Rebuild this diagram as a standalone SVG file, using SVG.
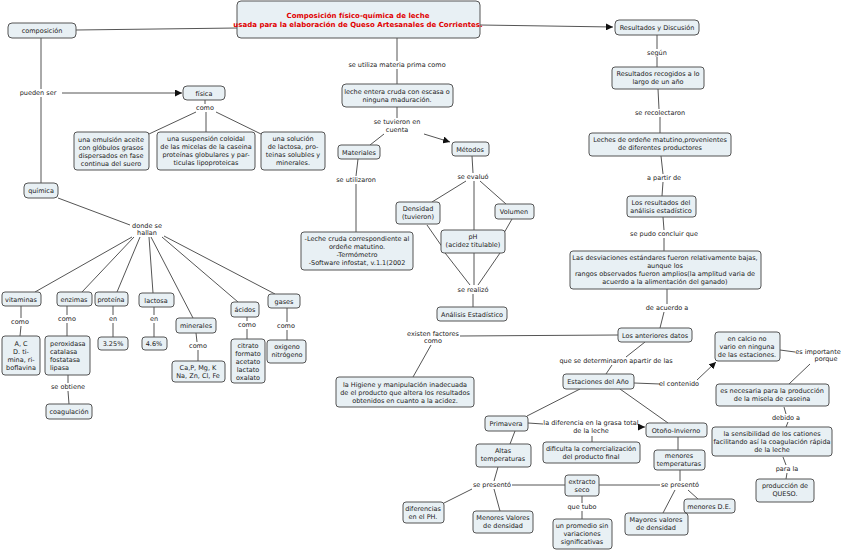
<svg xmlns="http://www.w3.org/2000/svg" width="848" height="552" viewBox="0 0 848 552">
<style>
rect{fill:#e8f0f4;stroke:#555;stroke-width:1;}
text{font-family:"DejaVu Sans",Verdana,sans-serif;font-size:6.5px;fill:#222;text-anchor:middle;}
.t{fill:#e00000;font-weight:bold;font-size:7px;}
.c line,.c path{stroke:#555;stroke-width:1;fill:none;}
</style>
<defs><marker id="a" viewBox="0 0 10 10" refX="10" refY="5" markerWidth="7" markerHeight="7" orient="auto"><path d="M0,0L10,5L0,10z" fill="#111"/></marker></defs>
<rect x="0" y="0" width="848" height="552" style="fill:#fff;stroke:none"/>
<g class="c">
<line x1="76" y1="30" x2="237" y2="28"/>
<line x1="480" y1="25" x2="613" y2="27" marker-end="url(#a)"/>
<line x1="41" y1="38" x2="41" y2="89"/><line x1="41" y1="97" x2="41" y2="183"/>
<line x1="62" y1="93" x2="182" y2="93" marker-end="url(#a)"/>
<line x1="205" y1="100" x2="205" y2="104"/>
<line x1="196" y1="112" x2="149" y2="134"/><line x1="206" y1="112" x2="206" y2="132"/><line x1="216" y1="112" x2="261" y2="134"/>
<line x1="58" y1="198" x2="130" y2="225"/>
<line x1="132" y1="237" x2="35" y2="292"/><line x1="134" y1="237" x2="82" y2="292"/><line x1="140" y1="237" x2="117" y2="292"/>
<line x1="149" y1="237" x2="153" y2="293"/><line x1="151" y1="237" x2="193" y2="318"/><line x1="162" y1="237" x2="238" y2="302"/><line x1="164" y1="236" x2="275" y2="294"/>
<line x1="21" y1="306" x2="21" y2="318"/><line x1="21" y1="326" x2="20" y2="336"/>
<line x1="67" y1="306" x2="67" y2="315"/><line x1="67" y1="323" x2="67" y2="336"/>
<line x1="68" y1="375" x2="68" y2="383"/><line x1="68" y1="391" x2="69" y2="404"/>
<line x1="113" y1="306" x2="113" y2="315"/><line x1="113" y1="323" x2="113" y2="337"/>
<line x1="154" y1="307" x2="154" y2="315"/><line x1="154" y1="323" x2="154" y2="337"/>
<line x1="196" y1="333" x2="197" y2="342"/><line x1="198" y1="350" x2="198" y2="361"/>
<line x1="247" y1="317" x2="247" y2="321"/><line x1="247" y1="329" x2="247" y2="339"/>
<line x1="287" y1="308" x2="287" y2="322"/><line x1="287" y1="330" x2="287" y2="340"/>
<line x1="397" y1="38" x2="397" y2="61"/><line x1="397" y1="69" x2="397" y2="84"/>
<line x1="397" y1="107" x2="397" y2="118"/>
<line x1="384" y1="134" x2="370" y2="145"/>
<line x1="424" y1="134" x2="450" y2="142" marker-end="url(#a)"/>
<line x1="358" y1="159" x2="356" y2="176"/><line x1="356" y1="184" x2="356" y2="232"/>
<line x1="472" y1="156" x2="473" y2="173"/>
<line x1="466" y1="181" x2="432" y2="202"/><line x1="474" y1="181" x2="474" y2="230"/><line x1="480" y1="181" x2="506" y2="204"/>
<line x1="427" y1="225" x2="443" y2="248"/>
<line x1="512" y1="219" x2="504" y2="233"/>
<line x1="442" y1="249" x2="470" y2="285"/><line x1="474" y1="253" x2="474" y2="285"/><line x1="500" y1="253" x2="478" y2="285"/>
<line x1="473" y1="294" x2="473" y2="307"/>
<line x1="657" y1="35" x2="657" y2="49"/><line x1="657" y1="57" x2="657" y2="67"/>
<line x1="658" y1="89" x2="659" y2="109"/><line x1="660" y1="117" x2="660" y2="133"/>
<line x1="661" y1="156" x2="663" y2="174"/><line x1="663" y1="182" x2="662" y2="196"/>
<line x1="663" y1="217" x2="664" y2="230"/><line x1="664" y1="238" x2="664" y2="251"/>
<line x1="667" y1="289" x2="667" y2="304"/><line x1="664" y1="312" x2="660" y2="328"/>
<line x1="460" y1="336" x2="618" y2="335"/>
<line x1="431" y1="345" x2="413" y2="377"/>
<line x1="645" y1="342" x2="626" y2="357"/><line x1="612" y1="365" x2="606" y2="374"/>
<line x1="634" y1="383" x2="660" y2="384"/>
<line x1="697" y1="380" x2="716" y2="362" marker-end="url(#a)"/>
<line x1="780" y1="350" x2="795" y2="352"/><line x1="810" y1="364" x2="789" y2="384"/>
<line x1="784" y1="407" x2="786" y2="414"/><line x1="788" y1="422" x2="786" y2="427"/>
<line x1="783" y1="457" x2="786" y2="465"/><line x1="787" y1="473" x2="786" y2="479"/>
<line x1="580" y1="389" x2="527" y2="416"/>
<line x1="620" y1="389" x2="668" y2="423"/>
<line x1="528" y1="423" x2="543" y2="424"/>
<line x1="640" y1="427" x2="645" y2="427" marker-end="url(#a)"/>
<line x1="592" y1="436" x2="592" y2="442"/>
<line x1="515" y1="431" x2="510" y2="444"/>
<line x1="498" y1="467" x2="494" y2="481"/>
<line x1="472" y1="489" x2="444" y2="503"/><line x1="494" y1="489" x2="500" y2="511"/>
<line x1="512" y1="485" x2="565" y2="485"/><line x1="599" y1="485" x2="660" y2="485"/>
<line x1="582" y1="496" x2="582" y2="503"/><line x1="582" y1="511" x2="582" y2="519"/>
<line x1="678" y1="437" x2="678" y2="450"/>
<line x1="680" y1="470" x2="680" y2="481"/>
<line x1="675" y1="490" x2="663" y2="513"/><line x1="688" y1="490" x2="698" y2="499"/>
</g>
<g id="title"><rect x="237" y="1" width="243" height="37" rx="4"/><text class="t" x="358" y="18">Composición físico-química de leche</text><text class="t" x="358" y="27">usada para la elaboración de Queso Artesanales de Corrientes.</text></g>
<g id="composicion"><rect x="8" y="23" width="68" height="15" rx="4"/><text x="42" y="33">composición</text></g>
<g id="fisica"><rect x="183" y="86" width="42" height="14" rx="4"/><text x="204" y="96">física</text></g>
<g id="emulsion"><rect x="74" y="132" width="75" height="38" rx="3"/><text x="111" y="142">una emulsión aceite</text><text x="111" y="150">con glóbulos grasos</text><text x="111" y="158">dispersados en fase</text><text x="111" y="166">continua del suero</text></g>
<g id="suspension"><rect x="157" y="132" width="98" height="38" rx="3"/><text x="206" y="141">una suspensión coloidal</text><text x="206" y="149">de las micelas de la caseina</text><text x="206" y="157">proteínas globulares y par-</text><text x="206" y="165">ticulas lipoproteicas</text></g>
<g id="solucion"><rect x="261" y="132" width="64" height="38" rx="3"/><text x="293" y="141">una solución</text><text x="293" y="149">de lactosa, pro-</text><text x="293" y="157">teinas  solubles y</text><text x="293" y="165">minerales.</text></g>
<g id="quimica"><rect x="24" y="183" width="34" height="15" rx="4"/><text x="41" y="193">química</text></g>
<g id="vitaminas"><rect x="2" y="292" width="39" height="14" rx="3"/><text x="21" y="302">vitaminas</text></g>
<g id="vitlist"><rect x="2" y="336" width="38" height="39" rx="3"/><text x="21" y="346">A, C</text><text x="21" y="354">D. ti-</text><text x="21" y="362">mina, ri-</text><text x="21" y="370">boflavina</text></g>
<g id="enzimas"><rect x="57" y="292" width="35" height="14" rx="3"/><text x="74" y="302">enzimas</text></g>
<g id="enzlist"><rect x="45" y="336" width="45" height="39" rx="3"/><text x="50" y="346" style="text-anchor:start">peroxidasa</text><text x="50" y="354" style="text-anchor:start">catalasa</text><text x="50" y="362" style="text-anchor:start">fostatasa</text><text x="50" y="370" style="text-anchor:start">lipasa</text></g>
<g id="coagulacion"><rect x="46" y="404" width="46" height="15" rx="3"/><text x="69" y="414">coagulación</text></g>
<g id="proteina"><rect x="95" y="292" width="33" height="14" rx="3"/><text x="111" y="302">proteína</text></g>
<g id="p325"><rect x="98" y="337" width="30" height="13" rx="3"/><text x="113" y="346">3.25%</text></g>
<g id="lactosa"><rect x="139" y="293" width="35" height="14" rx="3"/><text x="156" y="303">lactosa</text></g>
<g id="p46"><rect x="142" y="337" width="25" height="13" rx="3"/><text x="154" y="346">4.6%</text></g>
<g id="minerales"><rect x="176" y="318" width="40" height="15" rx="3"/><text x="196" y="328">minerales</text></g>
<g id="minlist"><rect x="172" y="361" width="53" height="21" rx="3"/><text x="198" y="370">Ca,P, Mg, K</text><text x="198" y="378">Na, Zn, Cl, Fe</text></g>
<g id="acidos"><rect x="231" y="302" width="28" height="15" rx="3"/><text x="245" y="312">ácidos</text></g>
<g id="acidlist"><rect x="231" y="339" width="34" height="44" rx="3"/><text x="248" y="348">citrato</text><text x="248" y="356">formato</text><text x="248" y="364">acetato</text><text x="248" y="372">lactato</text><text x="248" y="380">oxalato</text></g>
<g id="gases"><rect x="268" y="294" width="32" height="14" rx="3"/><text x="284" y="304">gases</text></g>
<g id="gaslist"><rect x="267" y="340" width="39" height="23" rx="3"/><text x="287" y="349">oxigeno</text><text x="287" y="357">nitrógeno</text></g>
<g id="leche"><rect x="342" y="84" width="111" height="23" rx="4"/><text x="397" y="94">leche entera cruda con escasa o</text><text x="397" y="102">ninguna maduración.</text></g>
<g id="materiales"><rect x="338" y="145" width="42" height="14" rx="3"/><text x="359" y="155">Materiales</text></g>
<g id="metodos"><rect x="452" y="142" width="37" height="14" rx="3"/><text x="470" y="152">Métodos</text></g>
<g id="software"><rect x="301" y="232" width="112" height="38" rx="3"/><text x="357" y="241">-Leche cruda correspondiente al</text><text x="357" y="249">ordeñe matutino.</text><text x="357" y="257">-Termómetro</text><text x="357" y="265">-Software infostat, v.1.1(2002</text></g>
<g id="densidad"><rect x="396" y="202" width="44" height="22" rx="3"/><text x="418" y="211">Densidad</text><text x="418" y="219">(tuvieron)</text></g>
<g id="volumen"><rect x="495" y="204" width="39" height="15" rx="3"/><text x="514" y="214">Volumen</text></g>
<g id="ph"><rect x="441" y="230" width="64" height="23" rx="3"/><text x="473" y="239">pH</text><text x="473" y="247">(acidez titulable)</text></g>
<g id="analisis"><rect x="437" y="307" width="70" height="14" rx="3"/><text x="472" y="317">Análisis Estadístico</text></g>
<g id="resultados"><rect x="615" y="20" width="84" height="15" rx="4"/><text x="657" y="30">Resultados y Discusión</text></g>
<g id="recogidos"><rect x="612" y="67" width="92" height="22" rx="3"/><text x="658" y="76">Resultados recogidos a lo</text><text x="658" y="84">largo de un año</text></g>
<g id="leches"><rect x="589" y="133" width="142" height="23" rx="3"/><text x="660" y="142">Leches de ordeñe matutino,provenientes</text><text x="660" y="150">de diferentes productores</text></g>
<g id="losresultados"><rect x="627" y="196" width="69" height="21" rx="3"/><text x="661" y="205">Los resultados del</text><text x="661" y="213">análisis estadístico</text></g>
<g id="desviaciones"><rect x="570" y="251" width="191" height="38" rx="3"/><text x="665" y="260">Las desviaciones estándares fueron relativamente bajas,</text><text x="665" y="268">aunque los</text><text x="665" y="276">rangos observados fueron amplios(la amplitud varia de</text><text x="665" y="284">acuerdo a la alimentación del ganado)</text></g>
<g id="anteriores"><rect x="618" y="328" width="74" height="14" rx="3"/><text x="655" y="338">Los anteriores datos</text></g>
<g id="higiene"><rect x="336" y="377" width="138" height="30" rx="3"/><text x="405" y="387">la Higiene y manipulación inadecuada</text><text x="405" y="395">de el producto que altera los resultados</text><text x="405" y="403">obtenidos en cuanto a la acidez.</text></g>
<g id="estaciones"><rect x="563" y="374" width="71" height="15" rx="3"/><text x="598" y="384">Estaciones del Año</text></g>
<g id="calcio"><rect x="715" y="332" width="65" height="29" rx="3"/><text x="747" y="341">en calcio no</text><text x="747" y="349">vario en ninguna</text><text x="747" y="357">de las estaciones.</text></g>
<g id="necesaria"><rect x="716" y="384" width="113" height="22" rx="3"/><text x="772" y="393">es necesaria para la producción</text><text x="772" y="401">de la misela de caseina</text></g>
<g id="sensibilidad"><rect x="712" y="427" width="120" height="29" rx="3"/><text x="772" y="436">la sensibilidad de los cationes</text><text x="772" y="444">facilitando así la coagulación rápida</text><text x="772" y="452">de la leche</text></g>
<g id="queso"><rect x="756" y="479" width="58" height="23" rx="3"/><text x="785" y="488">producción de</text><text x="785" y="496">QUESO.</text></g>
<g id="primavera"><rect x="485" y="416" width="43" height="15" rx="3"/><text x="506" y="426">Primavera</text></g>
<g id="otono"><rect x="646" y="423" width="61" height="14" rx="3"/><text x="676" y="433">Otoño-Invierno</text></g>
<g id="dificulta"><rect x="543" y="442" width="97" height="21" rx="3"/><text x="591" y="451">dificulta la comercialización</text><text x="591" y="459">del producto final</text></g>
<g id="altas"><rect x="476" y="444" width="55" height="23" rx="3"/><text x="503" y="453">Altas</text><text x="503" y="461">temperaturas</text></g>
<g id="menorestemp"><rect x="654" y="450" width="51" height="20" rx="3"/><text x="679" y="458">menores</text><text x="679" y="466">temperaturas</text></g>
<g id="extracto"><rect x="565" y="475" width="34" height="21" rx="3"/><text x="582" y="484">extracto</text><text x="582" y="492">seco</text></g>
<g id="diferencias"><rect x="403" y="502" width="41" height="21" rx="3"/><text x="423" y="511">diferencias</text><text x="423" y="519">en el PH.</text></g>
<g id="menoresvalores"><rect x="473" y="511" width="60" height="22" rx="3"/><text x="503" y="520">Menores Valores</text><text x="503" y="528">de densidad</text></g>
<g id="promedio"><rect x="553" y="519" width="59" height="30" rx="3"/><text x="582" y="528">un promedio sin</text><text x="582" y="536">variaciones</text><text x="582" y="544">significativas</text></g>
<g id="mayores"><rect x="625" y="513" width="63" height="22" rx="3"/><text x="656" y="522">Mayores  valores</text><text x="656" y="530">de densidad</text></g>
<g id="menoresde"><rect x="684" y="499" width="51" height="14" rx="3"/><text x="709" y="509">menores D.E.</text></g>
<g id="labels">
<text x="38" y="95">pueden ser</text>
<text x="205" y="110">como</text>
<text x="147" y="228">donde se</text><text x="147" y="235">hallan</text>
<text x="20" y="324">como</text><text x="67" y="321">como</text><text x="68" y="389">se obtiene</text>
<text x="113" y="321">en</text><text x="154" y="321">en</text><text x="198" y="348">como</text><text x="247" y="327">como</text><text x="286" y="328">como</text>
<text x="397" y="67">se utiliza materia prima como</text>
<text x="397" y="124">se tuvieron en</text><text x="397" y="132">cuenta</text>
<text x="356" y="182">se utilizaron</text>
<text x="473" y="179">se evaluó</text>
<text x="473" y="292">se realizó</text>
<text x="657" y="55">según</text>
<text x="660" y="115">se recolectaron</text>
<text x="664" y="180">a partir de</text>
<text x="664" y="236">se pudo concluir que</text>
<text x="667" y="310">de acuerdo a</text>
<text x="433" y="336">existen factores</text><text x="433" y="343">como</text>
<text x="616" y="363">que se determinaron apartir de las</text>
<text x="679" y="386">el contenido</text>
<text x="818" y="354">es importante</text><text x="826" y="361">porque</text>
<text x="786" y="420">debido a</text>
<text x="787" y="471">para la</text>
<text x="591" y="425">la diferencia en la grasa total</text><text x="591" y="433">de la leche</text>
<text x="492" y="487">se presentó</text>
<text x="680" y="487">se presentó</text>
<text x="582" y="509">que tubo</text>
</g>
</svg>
